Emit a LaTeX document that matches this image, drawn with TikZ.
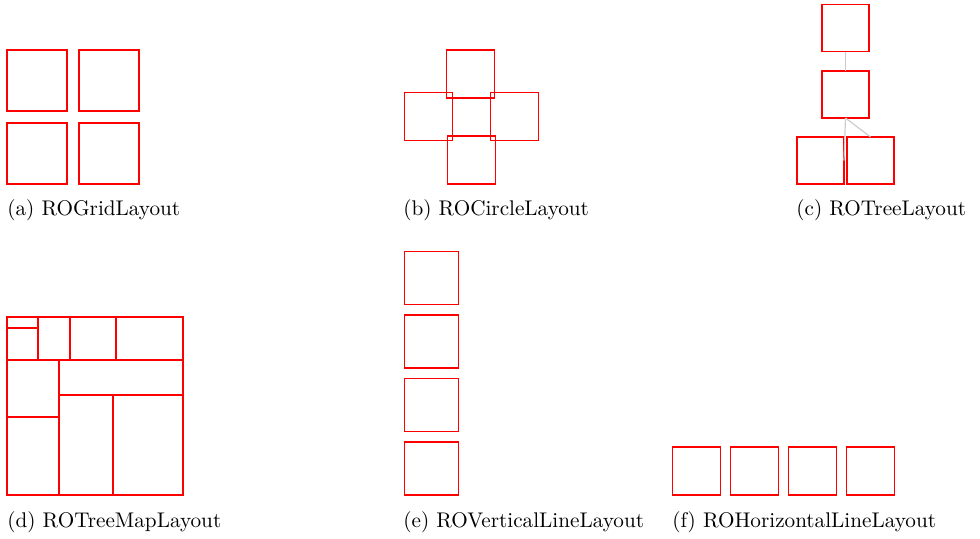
\documentclass[tikz,border=0pt]{standalone}
\usetikzlibrary{positioning}

\tikzset{
  layoutbox/.style={draw=red, line width=0.6pt, inner sep=0pt, outer sep=0pt},
  treeedge/.style={draw=gray!40, line width=0.6pt},
  caption/.style={anchor=base west, inner sep=0pt, font=\fontsize{10.6}{12}\selectfont}
}

\begin{document}
\begin{tikzpicture}[x=0.5pt, y=-0.5pt]
\useasboundingbox (0,0) rectangle (980,538);

% (a) grid
\foreach \cx/\cy/\name in {37/80.5/ga, 109/80.5/gb, 37/153.5/gc, 109/153.5/gd} {
    \node[layoutbox, minimum width=30pt, minimum height=30.5pt] (\name) at (\cx,\cy) {};
}
\node[caption] (capa) at (7,215) {(a) ROGridLayout};

% (b) circle
\foreach \cx/\cy/\name in {470.5/74/ctop, 428.5/116.5/cleft, 514.5/116.5/cright, 471.5/160/cbottom} {
    \node[layoutbox, minimum size=24pt] (\name) at (\cx,\cy) {};
}
\node[caption] (capb) at (403,215) {(b) ROCircleLayout};

% (c) tree
\node[layoutbox, minimum size=23.5pt] (troot) at (845.5,28) {};
\node[layoutbox, minimum size=23.5pt] (tmid) at (845.5,94.5) {};
\node[layoutbox, minimum size=23.5pt] (tleft) at (820.5,160.5) {};
\node[layoutbox, minimum size=23.5pt] (tright) at (870.5,160.5) {};
\draw[treeedge] (troot.south) -- (tmid.north);
\draw[treeedge] (tmid.south) -- (tleft.east);
\draw[treeedge] (tmid.south) -- (tright.north);
\node[caption] (capc) at (796,215) {(c) ROTreeLayout};

% (d) tree map
\draw[red, line width=0.6pt] (7,317) rectangle (183,495);
\draw[red, line width=0.6pt]
    (7,360) -- (183,360)
    (38,317) -- (38,360)
    (70,317) -- (70,360)
    (116,317) -- (116,360)
    (7,328) -- (38,328)
    (59,360) -- (59,495)
    (7,417) -- (59,417)
    (59,395) -- (183,395)
    (113,395) -- (113,495);
\node[caption] (capd) at (7,527) {(d) ROTreeMapLayout};

% (e) vertical line
\foreach \i in {0,...,3} {
    \node[layoutbox, minimum width=27pt, minimum height=26.5pt] (v\i) at (431.3,278+63.5*\i) {};
}
\node[caption] (cape) at (403,527) {(e) ROVerticalLineLayout};

% (f) horizontal line
\foreach \i in {0,...,3} {
    \node[layoutbox, minimum size=24pt] (h\i) at (696.5+58*\i,471) {};
}
\node[caption] (capf) at (672,527) {(f) ROHorizontalLineLayout};

\end{tikzpicture}
\end{document}
